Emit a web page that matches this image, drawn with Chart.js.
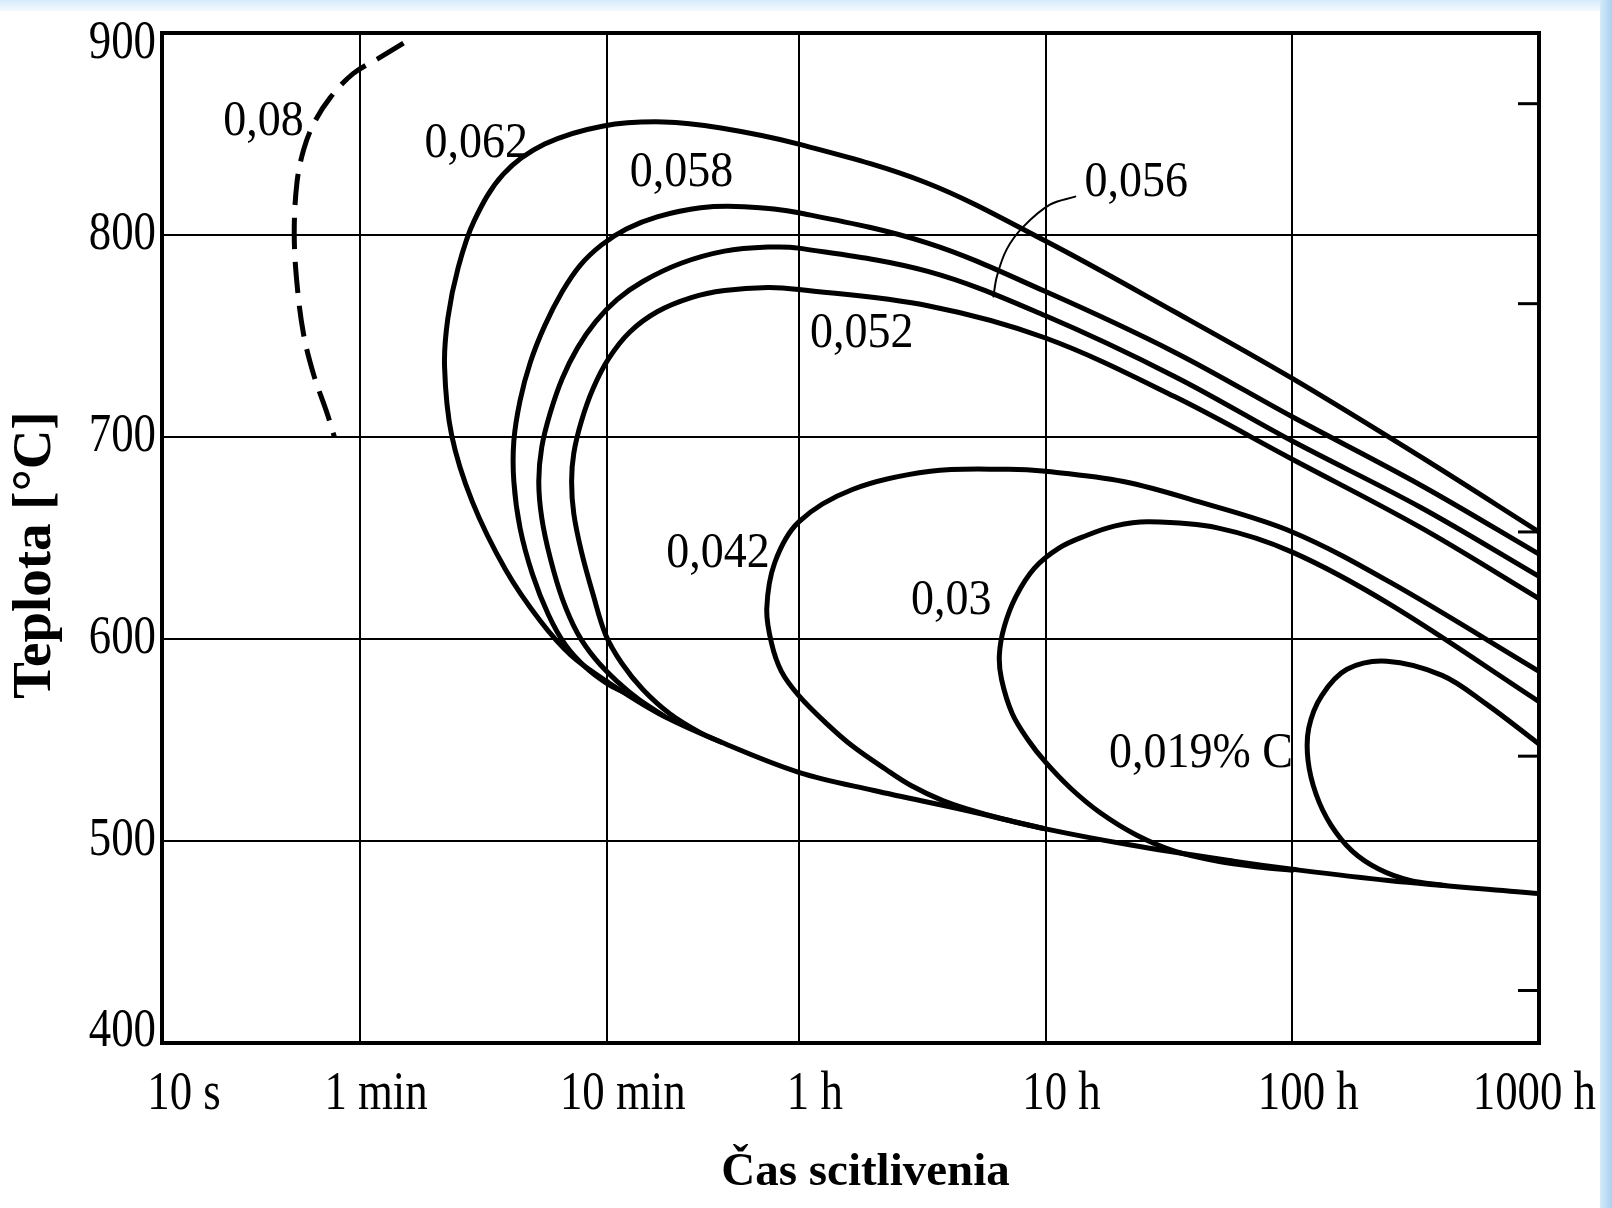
<!DOCTYPE html>
<html>
<head>
<meta charset="utf-8">
<script src="https://cdn.jsdelivr.net/npm/chart.js@4.4.1/dist/chart.umd.min.js"></script>
<style>
  html, body { margin: 0; padding: 0; background: #fff; }
  #wrap { position: relative; width: 1612px; height: 1208px; overflow: hidden; background: #fff; }
  #topBand { position: absolute; left: 0; top: 0; width: 1612px; height: 11px; background: linear-gradient(to bottom, #d6ebfa, #f4faff); }
  #rightBand { position: absolute; right: 0; top: 0; width: 12px; height: 1208px; background: linear-gradient(to right, #d4eafa, #a8d2f2); }
  canvas { position: absolute; left: 0; top: 0; }
</style>
</head>
<body>
<div id="wrap">
  <div id="topBand"></div>
  <div id="rightBand"></div>
  <canvas id="chart" width="1612" height="1208"></canvas>
</div>
<script>
// osi (cas v minutach, log. mierka)
const xTickValues = [1 / 6, 1, 10, 60, 600, 6000, 60000];
const xTickLabels = ['10 s', '1 min', '10 min', '1 h', '10 h', '100 h', '1000 h'];
const yTickValues = [400, 500, 600, 700, 800, 900];
const rightTickTemps = [865, 766, 653, 542, 426];

// krivky senzibilizacie pre rozny obsah C (cas [min], teplota [°C])
const c080Time = [1.50, 1.21, 0.94, 0.757, 0.648, 0.59, 0.555, 0.541, 0.555, 0.59, 0.648, 0.734, 0.787];
const c080Temp = [895, 888, 880, 868, 855, 842, 826, 801, 776, 751, 731, 712, 700];

const c062Time = [60000, 20000, 6000, 2000, 600, 196, 60, 29, 17, 9.7, 5.6, 3.8, 2.9, 2.5, 2.27, 2.2, 2.35, 2.85, 3.9, 5.37, 7.15, 10, 16.3, 29, 60, 121, 290, 600, 1330, 3470, 6000, 14700, 60000];
const c062Temp = [653, 690, 729, 762, 797, 826, 845, 853, 856, 854, 845, 830, 807, 784, 759, 735, 701, 668, 634, 609, 592, 579, 563, 549, 534, 525, 515, 506, 498, 490, 486, 480.5, 474];

const c058Time = [60000, 20000, 6000, 2000, 600, 200, 60, 36, 24, 16, 12, 9.5, 7.8, 6.6, 5.6, 4.9, 4.45, 4.2, 4.2, 4.45, 5.0, 5.8, 6.8, 8.2, 10, 12];
const c058Temp = [642, 676, 710, 742, 772, 796, 811, 814, 813.5, 809, 803, 795, 785, 772, 755, 737, 718, 698, 678, 655, 632, 612, 597, 586, 578, 573];

const c056Time = [60000, 20000, 6000, 2000, 600, 200, 60, 45, 30, 20, 14, 11, 9, 7.6, 6.6, 5.9, 5.45, 5.3, 5.45, 5.9, 6.6, 7.6, 9, 11, 13.5, 17];
const c056Temp = [631, 665, 698, 730, 760, 782, 793.5, 794, 792, 786, 777, 768, 757, 744, 729, 712, 695, 678, 660, 640, 620, 603, 590, 579, 570, 562];

const c052Time = [60000, 20000, 6000, 2000, 600, 200, 60, 45, 30, 22, 16, 12.4, 10.2, 8.8, 7.9, 7.35, 7.2, 7.35, 7.9, 8.8, 9.9, 11.5, 14, 18, 24, 29];
const c052Temp = [620, 655, 689, 720, 749, 765, 773, 774, 772.5, 769, 762, 752, 739, 724, 708, 692, 678, 662, 643, 622, 602, 588, 575, 563, 553.5, 549];

const c042Time = [60000, 15000, 6000, 2500, 1240, 600, 425, 205, 99, 60, 48, 44.5, 46.5, 51, 60, 78, 99, 135, 171, 230, 295, 400, 600];
const c042Temp = [584, 628, 653, 668, 678, 683, 684, 683, 674, 658, 638, 615, 598, 584, 572, 558, 547, 535.5, 527.5, 520, 515.5, 511, 506];

const c030Time = [60000, 15000, 6000, 2985, 1581, 1150, 869, 680, 540, 455, 408, 390, 398, 440, 510, 600, 760, 1000, 1400, 2000, 3000, 4500, 6000];
const c030Temp = [569, 617, 643, 655, 658, 656, 651, 645, 635, 621, 606, 592, 580, 563, 550, 539, 526, 514, 503, 495, 490, 487, 485.5];

const c019Time = [60000, 36500, 24300, 14500, 10000, 7900, 7000, 6950, 7500, 8600, 10500, 13500, 18000, 25000];
const c019Temp = [548, 568, 582, 589, 585, 572, 556, 540, 523, 508, 495, 486, 480.5, 478];

// odkazova ciara k popisu 0,056
const leaderTime = [792, 625, 487, 418, 381, 369];
const leaderTemp = [819, 815, 804, 793, 779.5, 769.5];

// popisy kriviek
const labelTexts = ['0,08', '0,062', '0,058', '0,056', '0,052', '0,042', '0,03', '0,019% C'];
const labelTimes = [0.406, 2.96, 20.1, 1400, 108, 28.2, 249, 2560];
const labelTemps = [856, 845, 831, 826, 751, 642, 619, 543];

const serif = '"Liberation Serif", "DejaVu Serif", serif';

function toPoints(times, temps) {
    return times.map((t, i) => ({ x: t, y: temps[i] }));
}

function curve(times, temps, width, dash) {
    return {
        data: toPoints(times, temps),
        borderColor: '#000',
        borderWidth: width,
        borderDash: dash || [],
        borderCapStyle: dash ? 'butt' : 'round',
        borderJoinStyle: 'round',
        pointRadius: 0,
        tension: 0.35,
        fill: false
    };
}

// text s horizontalnym zuzenim (povodne pismo je uzsie)
function drawText(ctx, text, x, y, size, sx, bold, align, rot) {
    ctx.save();
    ctx.translate(x, y);
    if (rot) ctx.rotate(rot);
    ctx.scale(sx, 1);
    ctx.font = (bold ? 'bold ' : '') + size + 'px ' + serif;
    ctx.textAlign = align;
    ctx.textBaseline = 'middle';
    ctx.fillStyle = '#000';
    ctx.fillText(text, 0, 0);
    ctx.restore();
}

const decorPlugin = {
    id: 'decor',
    afterDraw(chart) {
        const { ctx, chartArea: a, scales } = chart;
        const xs = scales.x, ys = scales.y;

        // ramcek
        ctx.save();
        ctx.strokeStyle = '#000';
        ctx.lineWidth = 4;
        ctx.strokeRect(a.left, a.top, a.right - a.left, a.bottom - a.top);

        // male ciarky na pravej osi
        ctx.lineWidth = 3;
        rightTickTemps.forEach(v => {
            const py = ys.getPixelForValue(v);
            ctx.beginPath();
            ctx.moveTo(a.right - 21, py);
            ctx.lineTo(a.right, py);
            ctx.stroke();
        });
        ctx.restore();

        // popisy osi y
        yTickValues.forEach(v => {
            let py = ys.getPixelForValue(v);
            py = Math.min(Math.max(py, a.top + 11), a.bottom - 11);
            drawText(ctx, String(v), a.left - 6, py, 54, 0.83, false, 'right');
        });

        // popisy osi x
        ctx.font = '54px ' + serif;
        xTickValues.forEach((v, i) => {
            const w = ctx.measureText(xTickLabels[i]).width * 0.83;
            let px = xs.getPixelForValue(v) + 16;
            px = Math.min(px, chart.width - 16 - w / 2);
            drawText(ctx, xTickLabels[i], px, a.bottom + 52, 54, 0.83, false, 'center');
        });

        // popisy kriviek
        labelTexts.forEach((t, i) => {
            drawText(ctx, t, xs.getPixelForValue(labelTimes[i]), ys.getPixelForValue(labelTemps[i]), 50, 0.92, false, 'center');
        });

        // nazvy osi
        drawText(ctx, 'Teplota [°C]', a.left - 126, (a.top + a.bottom) / 2 + 17, 55, 1, true, 'center', -Math.PI / 2);
        drawText(ctx, 'Čas scitlivenia', (a.left + a.right) / 2 + 15, a.bottom + 130, 47, 1, true, 'center');
    }
};

new Chart(document.getElementById('chart'), {
    type: 'line',
    data: {
        datasets: [
            curve(c080Time, c080Temp, 5, [31, 13]),
            curve(c062Time, c062Temp, 5),
            curve(c058Time, c058Temp, 5),
            curve(c056Time, c056Temp, 5),
            curve(c052Time, c052Temp, 5),
            curve(c042Time, c042Temp, 5),
            curve(c030Time, c030Temp, 5),
            curve(c019Time, c019Temp, 5),
            curve(leaderTime, leaderTemp, 2)
        ]
    },
    options: {
        responsive: false,
        animation: false,
        devicePixelRatio: 1,
        layout: { padding: { left: 162, top: 33, right: 73, bottom: 165 } },
        plugins: {
            legend: { display: false },
            tooltip: { enabled: false }
        },
        scales: {
            x: {
                type: 'logarithmic',
                min: 0.1575,
                max: 60000,
                afterBuildTicks: axis => {
                    axis.ticks = xTickValues.map(v => ({ value: v }));
                },
                ticks: { display: false },
                border: { display: false },
                grid: {
                    drawTicks: false,
                    lineWidth: 2,
                    color: c => (c.tick && c.tick.value < 0.5) ? 'rgba(0,0,0,0)' : '#000'
                }
            },
            y: {
                type: 'linear',
                min: 400,
                max: 900,
                afterBuildTicks: axis => {
                    axis.ticks = yTickValues.map(v => ({ value: v }));
                },
                ticks: { display: false },
                border: { display: false },
                grid: { drawTicks: false, lineWidth: 2, color: '#000' }
            }
        }
    },
    plugins: [decorPlugin]
});
</script>
</body>
</html>
